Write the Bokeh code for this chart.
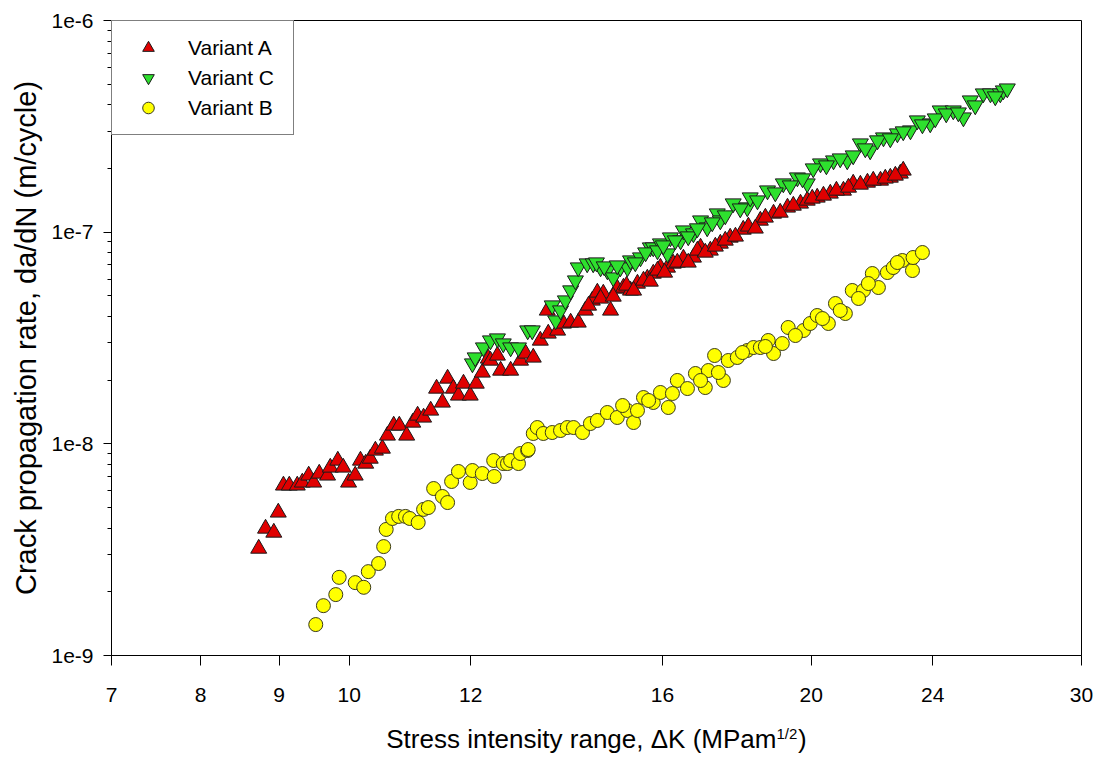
from bokeh.plotting import figure
from bokeh.models import (FixedTicker, CustomJSTickFormatter, Legend, LegendItem, Label)
from bokeh.embed import file_html
from bokeh.resources import INLINE

# ---------------- data ----------------
# Variant A (red up-triangles): stress intensity range (MPa m^1/2), da/dN (m/cycle)
a_dk = [8.73, 8.82, 8.93, 8.99, 9.06, 9.14, 9.25, 9.32, 9.41, 9.48, 9.56, 9.68, 9.72, 9.83,
        9.91, 9.99, 10.09, 10.17, 10.25, 10.32, 10.40, 10.51, 10.59, 10.69, 10.78, 10.90,
        11.00, 11.08, 11.18, 11.30, 11.40, 11.50, 11.59, 11.69, 11.78, 11.87, 11.99, 12.10,
        12.21, 12.32, 12.36, 12.49, 12.55, 12.74, 12.93, 13.03, 13.18, 13.32, 13.46, 13.48,
        13.67, 13.79, 13.94, 14.10, 14.25, 14.40, 14.51, 14.64, 14.80, 14.95, 15.09, 15.25,
        15.41, 15.64, 15.78, 15.95, 16.12, 16.26, 16.51, 16.76, 16.94, 17.19, 17.45, 17.71,
        18.06, 18.53, 18.90, 19.30, 19.68, 19.88, 20.18, 20.58, 20.99, 21.30, 21.76, 22.19,
        22.52, 22.86, 22.96,
        14.32, 14.58, 14.86, 15.16, 15.32, 15.55, 15.71, 15.88, 16.05, 16.36, 16.63, 16.86,
        17.06, 17.32, 17.58, 17.85, 18.20, 18.39, 18.67, 19.09, 19.47, 20.03, 20.37, 20.77,
        21.15, 21.53, 21.95, 22.35, 22.69]
a_rate = [3.20e-9, 3.98e-9, 3.81e-9, 4.74e-9, 6.36e-9, 6.36e-9, 6.36e-9, 6.57e-9, 7.09e-9,
          6.57e-9, 7.24e-9, 7.09e-9, 7.73e-9, 8.34e-9, 7.73e-9, 6.57e-9, 7.09e-9, 8.34e-9,
          8.07e-9, 8.52e-9, 9.30e-9, 9.50e-9, 10.95e-9, 12.21e-9, 12.21e-9, 10.95e-9,
          12.61e-9, 13.61e-9, 13.32e-9, 14.37e-9, 18.25e-9, 15.68e-9, 20.35e-9, 18.25e-9,
          16.92e-9, 19.27e-9, 16.92e-9, 19.27e-9, 21.73e-9, 25.30e-9, 24.75e-9, 26.14e-9,
          22.20e-9, 22.20e-9, 24.75e-9, 26.71e-9, 25.58e-9, 30.77e-9, 42.65e-9, 33.21e-9,
          34.31e-9, 37.03e-9, 37.44e-9, 37.44e-9, 42.65e-9, 47.55e-9, 51.88e-9, 51.31e-9,
          42.65e-9, 54.16e-9, 54.76e-9, 53.02e-9, 57.19e-9, 60.39e-9, 63.77e-9, 68.08e-9,
          68.08e-9, 71.11e-9, 75.09e-9, 75.91e-9, 84.63e-9, 81.92e-9, 88.39e-9, 94.35e-9,
          102.9e-9, 113.5e-9, 122.5e-9, 130.8e-9, 136.6e-9, 141.1e-9, 145.8e-9, 152.3e-9,
          157.3e-9, 169.8e-9, 171.6e-9, 175.4e-9, 181.2e-9, 189.3e-9, 195.6e-9,
          45.03e-9, 48.6e-9, 49.66e-9, 55.97e-9, 53.02e-9, 59.10e-9, 58.46e-9, 65.89e-9,
          64.47e-9, 71.89e-9, 71.89e-9, 81.92e-9, 80.15e-9, 85.56e-9, 91.32e-9, 95.4e-9,
          106.4e-9, 104.1e-9, 117.3e-9, 123.8e-9, 133.6e-9, 144.2e-9, 149.0e-9, 157.3e-9,
          162.5e-9, 167.9e-9, 175.4e-9, 179.3e-9, 185.2e-9]

# Variant C (green down-triangles)
c_dk = [12.03, 12.08, 12.23, 12.36, 12.49, 12.60, 12.74, 12.89, 13.07, 13.16, 13.56, 13.63,
        13.73, 13.83, 13.94, 14.04, 14.10, 14.29, 14.42, 14.58, 14.73, 14.86, 15.02, 15.18,
        15.25, 15.48, 15.71, 15.78, 15.95, 16.12, 16.19, 16.44, 16.51, 16.76, 16.94, 17.11,
        17.37, 17.45, 17.79, 18.17, 18.25, 18.73, 19.18, 19.59, 19.88, 20.28, 20.68, 21.11,
        21.53, 21.85, 22.29, 22.76, 23.21, 23.45, 23.91, 24.27, 24.75, 25.13, 25.39, 25.89,
        26.17, 26.56, 26.68, 26.84,
        14.49, 14.66, 14.95, 15.36, 15.60, 15.88, 16.02, 16.31, 16.63, 16.86, 17.24, 17.58,
        17.98, 18.45, 18.95, 19.38, 19.74, 20.06, 20.46, 20.89, 21.30, 21.69, 22.09, 22.52,
        22.96, 23.63, 24.09, 24.49, 24.94, 25.58, 26.36]
c_rate = [23.96e-9, 25.58e-9, 28.51e-9, 30.77e-9, 31.45e-9, 29.78e-9, 28.51e-9, 28.51e-9,
          34.31e-9, 34.31e-9, 45.03e-9, 38.25e-9, 42.65e-9, 47.55e-9, 53.02e-9, 59.10e-9,
          68.08e-9, 71.11e-9, 71.11e-9, 68.08e-9, 65.89e-9, 61.06e-9, 68.08e-9, 68.08e-9,
          73.47e-9, 75.91e-9, 84.63e-9, 84.63e-9, 88.39e-9, 79.29e-9, 94.35e-9, 91.32e-9,
          101.8e-9, 98.55e-9, 113.5e-9, 105.2e-9, 122.5e-9, 113.5e-9, 136.6e-9, 130.8e-9,
          145.8e-9, 157.3e-9, 169.8e-9, 181.2e-9, 169.8e-9, 211.0e-9, 218.0e-9, 218.0e-9,
          262.3e-9, 243.1e-9, 280.0e-9, 292.5e-9, 302.2e-9, 336.9e-9, 326.1e-9, 375.5e-9,
          375.5e-9, 348.0e-9, 418.7e-9, 451.8e-9, 451.8e-9, 451.8e-9, 466.8e-9, 477.0e-9,
          71.89e-9, 68.83e-9, 69.58e-9, 71.89e-9, 80.15e-9, 81.92e-9, 86.49e-9, 91.32e-9,
          95.4e-9, 104.1e-9, 111.1e-9, 119.9e-9, 129.3e-9, 141.1e-9, 153.9e-9, 166.1e-9,
          179.3e-9, 199.9e-9, 206.5e-9, 222.8e-9, 230.2e-9, 248.5e-9, 271.1e-9, 277.1e-9,
          299.0e-9, 322.6e-9, 344.3e-9, 363.4e-9, 367.4e-9, 396.6e-9, 437.5e-9]

# Variant B (yellow circles)
b_dk = [9.51, 9.62, 9.80, 9.85, 10.09, 10.22, 10.29, 10.45, 10.53, 10.57, 10.67, 10.77,
        10.88, 10.95, 11.09, 11.18, 11.26, 11.35, 11.50, 11.59, 11.66, 11.78, 11.99, 12.03,
        12.21, 12.42, 12.43, 12.60, 12.68, 12.74, 12.89, 12.93, 13.07, 13.08, 13.18, 13.26,
        13.38, 13.56, 13.73, 13.87, 14.00, 14.19, 14.36, 14.51, 14.73, 14.95, 15.18, 15.32,
        15.41, 15.55, 15.78, 15.95, 16.14, 16.36, 16.61, 16.81, 17.06, 17.14, 17.30, 17.53,
        17.66, 17.90, 18.17, 18.34, 18.53, 18.75, 18.90, 19.15, 19.32, 19.77, 19.97, 20.18,
        20.52, 20.74, 21.05, 21.27, 21.63, 21.92, 22.12, 22.42, 22.62, 22.93, 23.28, 23.30,
        23.63,
        15.07, 15.67, 16.24, 16.94, 17.40, 18.04, 18.67, 19.53, 20.34, 20.89, 21.47, 21.79,
        22.76]
b_rate = [1.40e-9, 1.72e-9, 1.94e-9, 2.34e-9, 2.21e-9, 2.10e-9, 2.49e-9, 2.72e-9, 3.27e-9,
          3.94e-9, 4.44e-9, 4.54e-9, 4.54e-9, 4.44e-9, 4.25e-9, 4.90e-9, 5.00e-9, 6.15e-9,
          5.64e-9, 5.28e-9, 6.64e-9, 7.40e-9, 6.57e-9, 7.48e-9, 7.24e-9, 8.34e-9, 7.01e-9,
          8.07e-9, 8.07e-9, 8.34e-9, 8.07e-9, 9.00e-9, 9.30e-9, 9.40e-9, 11.19e-9, 11.94e-9,
          11.19e-9, 11.31e-9, 11.56e-9, 11.94e-9, 11.94e-9, 11.31e-9, 12.47e-9, 12.89e-9,
          14.06e-9, 13.32e-9, 14.37e-9, 12.61e-9, 14.37e-9, 16.55e-9, 15.68e-9, 17.48e-9,
          14.85e-9, 19.92e-9, 18.25e-9, 21.49e-9, 18.45e-9, 22.20e-9, 26.14e-9, 19.92e-9,
          24.75e-9, 25.58e-9, 27.60e-9, 28.51e-9, 28.51e-9, 30.77e-9, 26.71e-9, 29.78e-9,
          35.45e-9, 34.31e-9, 37.03e-9, 40.39e-9, 37.03e-9, 46.02e-9, 41.28e-9, 53.02e-9,
          53.02e-9, 63.77e-9, 54.76e-9, 64.47e-9, 68.08e-9, 73.47e-9, 65.89e-9, 75.91e-9,
          80.15e-9,
          15.17e-9, 16.02e-9, 17.29e-9, 19.92e-9, 21.73e-9, 27.0e-9, 28.83e-9, 32.49e-9,
          39.08e-9, 42.65e-9, 48.6e-9, 57.19e-9, 71.89e-9]

x_ticks = [7, 8, 9, 10, 12, 16, 20, 24, 30]
y_ticks = [1e-9, 1e-8, 1e-7, 1e-6]
y_minor = [m * d for d in (1e-9, 1e-8, 1e-7) for m in range(2, 10)]
series_names = ["Variant A", "Variant C", "Variant B"]
x_title = "Stress intensity range, \u0394K (MPam\u00a0\u00a0\u00a0)"
x_title_sup = "1/2"
y_title = "Crack propagation rate, da/dN (m/cycle)"

FONT = "Liberation Sans"

p = figure(width=1102, height=762, x_axis_type="log", y_axis_type="log",
           x_range=(7, 30), y_range=(1e-9, 1e-6),
           output_backend="svg", toolbar_location=None,
           min_border_left=111, min_border_right=21, min_border_top=20,
           min_border_bottom=107)

p.background_fill_color = "white"
p.border_fill_color = "white"
p.outline_line_color = "black"
p.outline_line_width = 1
p.xgrid.visible = False
p.ygrid.visible = False

ra = p.scatter(a_dk, a_rate, marker="triangle", size=16, fill_color="#e00000",
               line_color="#1a1a1a", line_width=1)
rc = p.scatter(c_dk, c_rate, marker="inverted_triangle", size=16, fill_color="#2ee02e",
               line_color="#1a1a1a", line_width=1)
rb = p.scatter(b_dk, b_rate, marker="circle", size=14, fill_color="#ffff00",
               line_color="#3a3a1a", line_width=1)

# axes
xa = p.xaxis[0]
xa.ticker = FixedTicker(ticks=x_ticks, minor_ticks=[])
xa.formatter = CustomJSTickFormatter(code="return Math.round(tick).toString();")
ya = p.yaxis[0]
ya.ticker = FixedTicker(ticks=y_ticks, minor_ticks=y_minor)
ya.formatter = CustomJSTickFormatter(code="return '1e' + Math.round(Math.log10(tick));")

for ax in (xa, ya):
    ax.axis_line_color = "black"
    ax.major_tick_line_color = "black"
    ax.minor_tick_line_color = "black"
    ax.major_tick_in = 0
    ax.minor_tick_in = 0
    ax.major_label_text_font = FONT
    ax.major_label_text_font_size = "21px"
    ax.major_label_text_color = "black"
    ax.axis_label_text_font = FONT
    ax.axis_label_text_font_style = "normal"
    ax.axis_label_text_color = "black"

xa.major_tick_out = 10
xa.major_label_standoff = 22
xa.axis_label = x_title
xa.axis_label_text_font_size = "26px"
xa.axis_label_standoff = 19

ya.major_tick_out = 8
ya.minor_tick_out = 4
ya.major_label_standoff = 10
ya.axis_label = y_title
ya.axis_label_text_font_size = "29px"
ya.axis_label_standoff = 6

# superscript of the x title: placed in the right side panel (not clipped);
# screen offsets are relative to that panel
sup = Label(x=-305, y=-78, x_units="screen", y_units="screen", text=x_title_sup,
            text_font=FONT, text_font_size="15px", text_color="black",
            text_baseline="alphabetic", text_align="left")
p.add_layout(sup, "right")

legend = Legend(items=[LegendItem(label=series_names[0], renderers=[ra]),
                       LegendItem(label=series_names[1], renderers=[rc]),
                       LegendItem(label=series_names[2], renderers=[rb])],
                location="top_left", margin=0, padding=12, spacing=1,
                glyph_width=48, glyph_height=29, label_standoff=16, label_width=93,
                label_text_font=FONT, label_text_font_size="21px",
                label_text_color="black", border_line_color="black",
                border_line_width=1, background_fill_color="white",
                background_fill_alpha=1.0)
p.add_layout(legend, "center")

open("out.html", "w").write(file_html(p, INLINE))
